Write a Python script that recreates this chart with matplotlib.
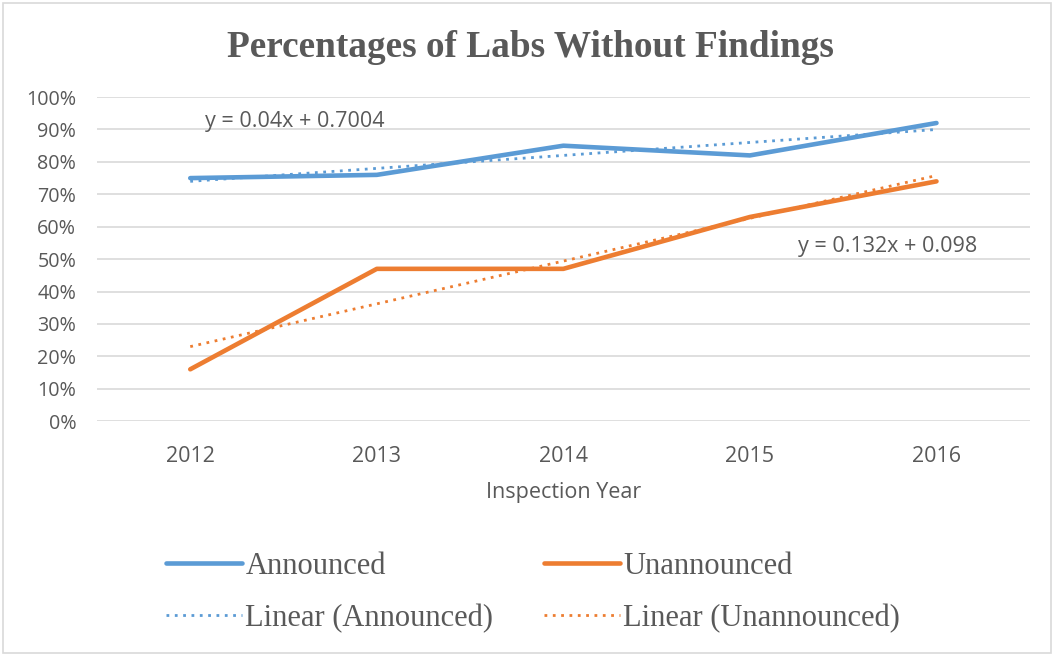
import numpy as np
import matplotlib
matplotlib.use("Agg")
from matplotlib import pyplot as plt
from matplotlib.patches import Rectangle

# share of labs without findings, per inspection year
years = ["2012", "2013", "2014", "2015", "2016"]
announced = [0.75, 0.76, 0.85, 0.82, 0.92]
unannounced = [0.16, 0.47, 0.47, 0.63, 0.74]

blue = "#5B9BD5"
orange = "#ED7D31"
grey = "#595959"

fig = plt.figure(figsize=(10.54, 6.56), dpi=100)
ax = fig.add_axes([0.092, 0.358, 0.885, 0.494])

x = np.arange(len(years))
la, = ax.plot(x, announced, color=blue, lw=3.3, solid_capstyle="round", label="Announced", zorder=3)
lu, = ax.plot(x, unannounced, color=orange, lw=3.3, solid_capstyle="round", label="Unannounced", zorder=3)

# linear trend lines (x = 1..5 like the spreadsheet)
xs = x + 1
a_fit = np.polyfit(xs, announced, 1)
u_fit = np.polyfit(xs, unannounced, 1)
ta, = ax.plot(x, np.polyval(a_fit, xs), color=blue, lw=2, ls=(0, (1, 2)), label="Linear (Announced)", zorder=4)
tu, = ax.plot(x, np.polyval(u_fit, xs), color=orange, lw=2, ls=(0, (1, 2)), label="Linear (Unannounced)", zorder=4)

ax.text(0.56, 0.926, "y = 0.04x + 0.7004", ha="center", va="center",
        fontsize=15.5, color=grey, family="Open Sans")
ax.text(3.74, 0.54, "y = 0.132x + 0.098", ha="center", va="center",
        fontsize=15.5, color=grey, family="Open Sans")

ax.set_xlim(-0.5, 4.5)
ax.set_ylim(0, 1)
ax.set_yticks(np.arange(0, 1.01, 0.1))
ax.set_yticklabels([f"{int(round(v * 100))}%" for v in np.arange(0, 1.01, 0.1)])
ax.set_xticks(x)
ax.set_xticklabels(years)
ax.tick_params(length=0, labelcolor=grey)
ax.tick_params(axis="y", labelsize=14.2, pad=15)
ax.tick_params(axis="x", labelsize=15.5, pad=18)
for lab in ax.get_xticklabels() + ax.get_yticklabels():
    lab.set_family("Open Sans")
ax.grid(axis="y", color="#D9D9D9", lw=1.2)
ax.set_axisbelow(True)
for s in ax.spines.values():
    s.set_visible(False)
ax.set_xlabel("Inspection Year", fontsize=15.5, color=grey, family="Open Sans", labelpad=11)

fig.text(0.503, 0.928, "Percentages of Labs Without Findings", ha="center", va="center",
         fontsize=26.8, fontweight="bold", color=grey, family="Liberation Serif")

fig.legend([la, ta, lu, tu], [h.get_label() for h in (la, ta, lu, tu)],
           loc="upper left", bbox_to_anchor=(0.143, 0.182), ncol=2, frameon=False,
           prop={"family": "Liberation Serif", "size": 22}, handlelength=2.5,
           handletextpad=0.1, columnspacing=1.65, labelspacing=0.75, borderpad=0,
           labelcolor=grey)

fig.patches.append(Rectangle((0.003, 0.005), 0.994, 0.99, transform=fig.transFigure,
                             fill=False, edgecolor="#D9D9D9", lw=1.2))

fig.savefig("out.png", dpi=100)
